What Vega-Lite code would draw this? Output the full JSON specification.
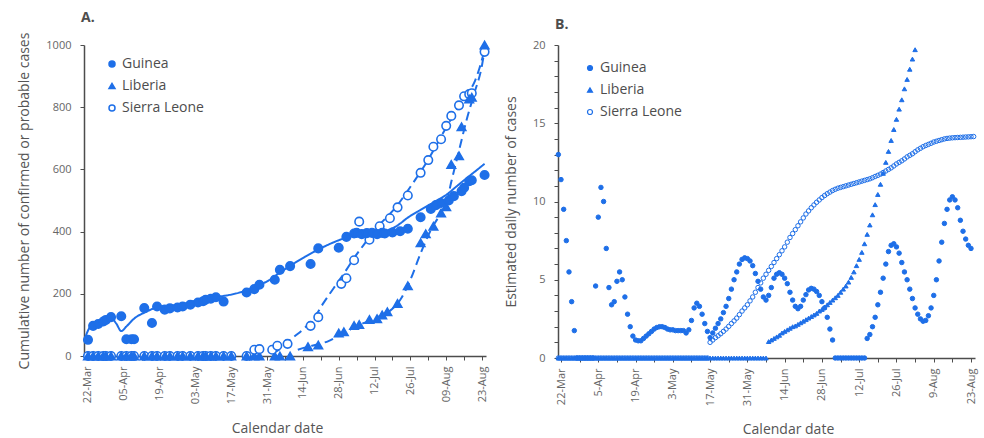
{
"$schema":"https://vega.github.io/schema/vega-lite/v6.json",
"background":"white",
"padding":{"left":17,"top":11,"right":4,"bottom":0},
"spacing":11,
"config":{
 "font":"Open Sans",
 "view":{"stroke":null},
 "axis":{"grid":false,"domainColor":"#4d4d4d","domainWidth":1.5,"tickColor":"#4d4d4d","tickWidth":1,"tickSize":4,"labelColor":"#666666","labelFontSize":11,"titleColor":"#555555","titleFontSize":14,"titleFontWeight":"normal","labelOverlap":false,"labelBound":false},
 "legend":{"labelFontSize":14,"labelColor":"#4d4d4d","rowPadding":8,"padding":0,"labelOffset":3},
 "title":{"fontSize":14,"color":"#4d4d4d","fontWeight":"bold"}
},
"datasets":{
"fitA":[
{"country":"Guinea","date":"2014-03-21","value":62},{"country":"Guinea","date":"2014-03-23","value":95},{"country":"Guinea","date":"2014-03-27","value":111},{"country":"Guinea","date":"2014-03-31","value":121},{"country":"Guinea","date":"2014-04-02","value":105},{"country":"Guinea","date":"2014-04-04","value":80},{"country":"Guinea","date":"2014-04-06","value":95},{"country":"Guinea","date":"2014-04-09","value":120},{"country":"Guinea","date":"2014-04-14","value":143},{"country":"Guinea","date":"2014-04-18","value":157},{"country":"Guinea","date":"2014-04-24","value":163},{"country":"Guinea","date":"2014-04-28","value":168},{"country":"Guinea","date":"2014-05-06","value":184},{"country":"Guinea","date":"2014-05-12","value":191},{"country":"Guinea","date":"2014-05-16","value":196},{"country":"Guinea","date":"2014-05-21","value":206},{"country":"Guinea","date":"2014-05-26","value":222},{"country":"Guinea","date":"2014-05-31","value":240},{"country":"Guinea","date":"2014-06-05","value":268},{"country":"Guinea","date":"2014-06-10","value":295},{"country":"Guinea","date":"2014-06-15","value":320},{"country":"Guinea","date":"2014-06-20","value":342},{"country":"Guinea","date":"2014-06-25","value":362},{"country":"Guinea","date":"2014-06-30","value":378},{"country":"Guinea","date":"2014-07-05","value":388},{"country":"Guinea","date":"2014-07-10","value":394},{"country":"Guinea","date":"2014-07-14","value":399},{"country":"Guinea","date":"2014-07-18","value":407},{"country":"Guinea","date":"2014-07-21","value":420},{"country":"Guinea","date":"2014-07-25","value":445},{"country":"Guinea","date":"2014-07-30","value":470},{"country":"Guinea","date":"2014-08-04","value":494},{"country":"Guinea","date":"2014-08-09","value":518},{"country":"Guinea","date":"2014-08-13","value":545},{"country":"Guinea","date":"2014-08-17","value":572},{"country":"Guinea","date":"2014-08-21","value":598},{"country":"Guinea","date":"2014-08-24","value":618},
{"country":"Liberia","date":"2014-06-12","value":20},{"country":"Liberia","date":"2014-06-16","value":30},{"country":"Liberia","date":"2014-06-20","value":38},{"country":"Liberia","date":"2014-06-24","value":48},{"country":"Liberia","date":"2014-06-28","value":65},{"country":"Liberia","date":"2014-07-02","value":83},{"country":"Liberia","date":"2014-07-06","value":100},{"country":"Liberia","date":"2014-07-10","value":113},{"country":"Liberia","date":"2014-07-14","value":128},{"country":"Liberia","date":"2014-07-18","value":145},{"country":"Liberia","date":"2014-07-22","value":180},{"country":"Liberia","date":"2014-07-26","value":245},{"country":"Liberia","date":"2014-07-30","value":330},{"country":"Liberia","date":"2014-08-03","value":405},{"country":"Liberia","date":"2014-08-07","value":460},{"country":"Liberia","date":"2014-08-09","value":490},{"country":"Liberia","date":"2014-08-11","value":560},{"country":"Liberia","date":"2014-08-14","value":660},{"country":"Liberia","date":"2014-08-17","value":760},{"country":"Liberia","date":"2014-08-20","value":845},{"country":"Liberia","date":"2014-08-23","value":935},{"country":"Liberia","date":"2014-08-24","value":985},
{"country":"Sierra Leone","date":"2014-06-02","value":8},{"country":"Sierra Leone","date":"2014-06-06","value":28},{"country":"Sierra Leone","date":"2014-06-10","value":58},{"country":"Sierra Leone","date":"2014-06-14","value":85},{"country":"Sierra Leone","date":"2014-06-18","value":118},{"country":"Sierra Leone","date":"2014-06-22","value":170},{"country":"Sierra Leone","date":"2014-06-26","value":218},{"country":"Sierra Leone","date":"2014-06-30","value":265},{"country":"Sierra Leone","date":"2014-07-04","value":315},{"country":"Sierra Leone","date":"2014-07-08","value":360},{"country":"Sierra Leone","date":"2014-07-12","value":405},{"country":"Sierra Leone","date":"2014-07-16","value":440},{"country":"Sierra Leone","date":"2014-07-20","value":475},{"country":"Sierra Leone","date":"2014-07-24","value":520},{"country":"Sierra Leone","date":"2014-07-28","value":568},{"country":"Sierra Leone","date":"2014-08-01","value":618},{"country":"Sierra Leone","date":"2014-08-05","value":675},{"country":"Sierra Leone","date":"2014-08-09","value":735},{"country":"Sierra Leone","date":"2014-08-13","value":790},{"country":"Sierra Leone","date":"2014-08-17","value":840},{"country":"Sierra Leone","date":"2014-08-20","value":880},{"country":"Sierra Leone","date":"2014-08-22","value":925},{"country":"Sierra Leone","date":"2014-08-24","value":985}
],
"pointsA":[
{"country":"Sierra Leone","date":"2014-03-22","value":0},{"country":"Sierra Leone","date":"2014-03-24","value":0},{"country":"Sierra Leone","date":"2014-03-26","value":0},{"country":"Sierra Leone","date":"2014-03-28","value":0},{"country":"Sierra Leone","date":"2014-03-29","value":0},{"country":"Sierra Leone","date":"2014-03-31","value":0},{"country":"Sierra Leone","date":"2014-04-04","value":0},{"country":"Sierra Leone","date":"2014-04-06","value":0},{"country":"Sierra Leone","date":"2014-04-08","value":0},{"country":"Sierra Leone","date":"2014-04-09","value":0},{"country":"Sierra Leone","date":"2014-04-13","value":0},{"country":"Sierra Leone","date":"2014-04-16","value":0},{"country":"Sierra Leone","date":"2014-04-18","value":0},{"country":"Sierra Leone","date":"2014-04-21","value":0},{"country":"Sierra Leone","date":"2014-04-23","value":0},{"country":"Sierra Leone","date":"2014-04-26","value":0},{"country":"Sierra Leone","date":"2014-04-28","value":0},{"country":"Sierra Leone","date":"2014-05-01","value":0},{"country":"Sierra Leone","date":"2014-05-04","value":0},{"country":"Sierra Leone","date":"2014-05-06","value":0},{"country":"Sierra Leone","date":"2014-05-07","value":0},{"country":"Sierra Leone","date":"2014-05-09","value":0},{"country":"Sierra Leone","date":"2014-05-11","value":0},{"country":"Sierra Leone","date":"2014-05-14","value":0},{"country":"Sierra Leone","date":"2014-05-17","value":0},{"country":"Sierra Leone","date":"2014-05-23","value":0},
{"country":"Liberia","date":"2014-03-22","value":0},{"country":"Liberia","date":"2014-03-24","value":0},{"country":"Liberia","date":"2014-03-26","value":0},{"country":"Liberia","date":"2014-03-28","value":0},{"country":"Liberia","date":"2014-03-29","value":0},{"country":"Liberia","date":"2014-03-31","value":0},{"country":"Liberia","date":"2014-04-04","value":0},{"country":"Liberia","date":"2014-04-06","value":0},{"country":"Liberia","date":"2014-04-08","value":0},{"country":"Liberia","date":"2014-04-09","value":0},{"country":"Liberia","date":"2014-04-13","value":0},{"country":"Liberia","date":"2014-04-16","value":0},{"country":"Liberia","date":"2014-04-18","value":0},{"country":"Liberia","date":"2014-04-21","value":0},{"country":"Liberia","date":"2014-04-23","value":0},{"country":"Liberia","date":"2014-04-26","value":0},{"country":"Liberia","date":"2014-04-28","value":0},{"country":"Liberia","date":"2014-05-01","value":0},{"country":"Liberia","date":"2014-05-04","value":0},{"country":"Liberia","date":"2014-05-06","value":0},{"country":"Liberia","date":"2014-05-07","value":0},{"country":"Liberia","date":"2014-05-09","value":0},{"country":"Liberia","date":"2014-05-11","value":0},{"country":"Liberia","date":"2014-05-14","value":0},{"country":"Liberia","date":"2014-05-17","value":0},{"country":"Liberia","date":"2014-05-23","value":0},{"country":"Liberia","date":"2014-05-26","value":0},{"country":"Liberia","date":"2014-05-28","value":0},{"country":"Liberia","date":"2014-06-03","value":0},{"country":"Liberia","date":"2014-06-05","value":0},{"country":"Liberia","date":"2014-06-09","value":0},
{"country":"Sierra Leone","date":"2014-05-26","value":20},{"country":"Sierra Leone","date":"2014-05-28","value":22},{"country":"Sierra Leone","date":"2014-06-02","value":20},{"country":"Sierra Leone","date":"2014-06-04","value":33},{"country":"Sierra Leone","date":"2014-06-08","value":39},{"country":"Sierra Leone","date":"2014-06-17","value":97},{"country":"Sierra Leone","date":"2014-06-20","value":125},{"country":"Sierra Leone","date":"2014-06-29","value":232},{"country":"Sierra Leone","date":"2014-07-01","value":250},{"country":"Sierra Leone","date":"2014-07-04","value":308},{"country":"Sierra Leone","date":"2014-07-06","value":432},{"country":"Sierra Leone","date":"2014-07-10","value":374},{"country":"Sierra Leone","date":"2014-07-14","value":417},{"country":"Sierra Leone","date":"2014-07-18","value":443},{"country":"Sierra Leone","date":"2014-07-21","value":478},{"country":"Sierra Leone","date":"2014-07-25","value":516},{"country":"Sierra Leone","date":"2014-07-30","value":589},{"country":"Sierra Leone","date":"2014-08-02","value":630},{"country":"Sierra Leone","date":"2014-08-04","value":673},{"country":"Sierra Leone","date":"2014-08-07","value":697},{"country":"Sierra Leone","date":"2014-08-09","value":740},{"country":"Sierra Leone","date":"2014-08-11","value":772},{"country":"Sierra Leone","date":"2014-08-14","value":806},{"country":"Sierra Leone","date":"2014-08-16","value":835},{"country":"Sierra Leone","date":"2014-08-18","value":842},{"country":"Sierra Leone","date":"2014-08-19","value":845},{"country":"Sierra Leone","date":"2014-08-24","value":978},
{"country":"Liberia","date":"2014-06-16","value":30},{"country":"Liberia","date":"2014-06-20","value":35},{"country":"Liberia","date":"2014-06-28","value":74},{"country":"Liberia","date":"2014-06-30","value":78},{"country":"Liberia","date":"2014-07-04","value":98},{"country":"Liberia","date":"2014-07-06","value":101},{"country":"Liberia","date":"2014-07-10","value":117},{"country":"Liberia","date":"2014-07-13","value":120},{"country":"Liberia","date":"2014-07-15","value":132},{"country":"Liberia","date":"2014-07-17","value":142},{"country":"Liberia","date":"2014-07-21","value":169},{"country":"Liberia","date":"2014-07-25","value":226},{"country":"Liberia","date":"2014-07-30","value":364},{"country":"Liberia","date":"2014-08-01","value":393},{"country":"Liberia","date":"2014-08-04","value":417},{"country":"Liberia","date":"2014-08-07","value":460},{"country":"Liberia","date":"2014-08-09","value":480},{"country":"Liberia","date":"2014-08-11","value":616},{"country":"Liberia","date":"2014-08-14","value":644},{"country":"Liberia","date":"2014-08-15","value":737},{"country":"Liberia","date":"2014-08-18","value":826},{"country":"Liberia","date":"2014-08-19","value":832},{"country":"Liberia","date":"2014-08-24","value":1000},
{"country":"Guinea","date":"2014-03-22","value":52},{"country":"Guinea","date":"2014-03-24","value":97},{"country":"Guinea","date":"2014-03-26","value":103},{"country":"Guinea","date":"2014-03-28","value":111},{"country":"Guinea","date":"2014-03-29","value":116},{"country":"Guinea","date":"2014-03-31","value":125},{"country":"Guinea","date":"2014-04-04","value":128},{"country":"Guinea","date":"2014-04-06","value":54},{"country":"Guinea","date":"2014-04-08","value":54},{"country":"Guinea","date":"2014-04-09","value":54},{"country":"Guinea","date":"2014-04-13","value":154},{"country":"Guinea","date":"2014-04-16","value":106},{"country":"Guinea","date":"2014-04-18","value":159},{"country":"Guinea","date":"2014-04-21","value":149},{"country":"Guinea","date":"2014-04-23","value":153},{"country":"Guinea","date":"2014-04-26","value":156},{"country":"Guinea","date":"2014-04-28","value":159},{"country":"Guinea","date":"2014-05-01","value":165},{"country":"Guinea","date":"2014-05-04","value":172},{"country":"Guinea","date":"2014-05-06","value":176},{"country":"Guinea","date":"2014-05-07","value":181},{"country":"Guinea","date":"2014-05-09","value":184},{"country":"Guinea","date":"2014-05-11","value":189},{"country":"Guinea","date":"2014-05-14","value":175},{"country":"Guinea","date":"2014-05-23","value":204},{"country":"Guinea","date":"2014-05-26","value":215},{"country":"Guinea","date":"2014-05-28","value":229},{"country":"Guinea","date":"2014-06-03","value":245},{"country":"Guinea","date":"2014-06-05","value":277},{"country":"Guinea","date":"2014-06-09","value":289},{"country":"Guinea","date":"2014-06-17","value":296},{"country":"Guinea","date":"2014-06-20","value":346},{"country":"Guinea","date":"2014-06-28","value":348},{"country":"Guinea","date":"2014-07-01","value":383},{"country":"Guinea","date":"2014-07-04","value":394},{"country":"Guinea","date":"2014-07-05","value":396},{"country":"Guinea","date":"2014-07-07","value":392},{"country":"Guinea","date":"2014-07-09","value":395},{"country":"Guinea","date":"2014-07-11","value":396},{"country":"Guinea","date":"2014-07-13","value":392},{"country":"Guinea","date":"2014-07-15","value":396},{"country":"Guinea","date":"2014-07-16","value":394},{"country":"Guinea","date":"2014-07-19","value":397},{"country":"Guinea","date":"2014-07-22","value":401},{"country":"Guinea","date":"2014-07-25","value":409},{"country":"Guinea","date":"2014-07-30","value":446},{"country":"Guinea","date":"2014-08-03","value":473},{"country":"Guinea","date":"2014-08-05","value":485},{"country":"Guinea","date":"2014-08-07","value":492},{"country":"Guinea","date":"2014-08-10","value":500},{"country":"Guinea","date":"2014-08-12","value":514},{"country":"Guinea","date":"2014-08-15","value":530},{"country":"Guinea","date":"2014-08-16","value":541},{"country":"Guinea","date":"2014-08-18","value":562},{"country":"Guinea","date":"2014-08-19","value":565},{"country":"Guinea","date":"2014-08-24","value":582}
],
"pointsB":[
{"country":"Sierra Leone","date":"2014-03-21","value":0},{"country":"Sierra Leone","date":"2014-03-22","value":0},{"country":"Sierra Leone","date":"2014-03-23","value":0},{"country":"Sierra Leone","date":"2014-03-24","value":0},{"country":"Sierra Leone","date":"2014-03-25","value":0},{"country":"Sierra Leone","date":"2014-03-26","value":0},{"country":"Sierra Leone","date":"2014-03-27","value":0},{"country":"Sierra Leone","date":"2014-03-28","value":0},{"country":"Sierra Leone","date":"2014-03-29","value":0},{"country":"Sierra Leone","date":"2014-03-30","value":0},{"country":"Sierra Leone","date":"2014-03-31","value":0},
{"country":"Sierra Leone","date":"2014-04-01","value":0},{"country":"Sierra Leone","date":"2014-04-02","value":0},{"country":"Sierra Leone","date":"2014-04-03","value":0},{"country":"Sierra Leone","date":"2014-04-04","value":0},{"country":"Sierra Leone","date":"2014-04-05","value":0},{"country":"Sierra Leone","date":"2014-04-06","value":0},{"country":"Sierra Leone","date":"2014-04-07","value":0},{"country":"Sierra Leone","date":"2014-04-08","value":0},{"country":"Sierra Leone","date":"2014-04-09","value":0},{"country":"Sierra Leone","date":"2014-04-10","value":0},{"country":"Sierra Leone","date":"2014-04-11","value":0},{"country":"Sierra Leone","date":"2014-04-12","value":0},{"country":"Sierra Leone","date":"2014-04-13","value":0},{"country":"Sierra Leone","date":"2014-04-14","value":0},{"country":"Sierra Leone","date":"2014-04-15","value":0},{"country":"Sierra Leone","date":"2014-04-16","value":0},{"country":"Sierra Leone","date":"2014-04-17","value":0},{"country":"Sierra Leone","date":"2014-04-18","value":0},{"country":"Sierra Leone","date":"2014-04-19","value":0},{"country":"Sierra Leone","date":"2014-04-20","value":0},{"country":"Sierra Leone","date":"2014-04-21","value":0},{"country":"Sierra Leone","date":"2014-04-22","value":0},{"country":"Sierra Leone","date":"2014-04-23","value":0},{"country":"Sierra Leone","date":"2014-04-24","value":0},{"country":"Sierra Leone","date":"2014-04-25","value":0},{"country":"Sierra Leone","date":"2014-04-26","value":0},{"country":"Sierra Leone","date":"2014-04-27","value":0},{"country":"Sierra Leone","date":"2014-04-28","value":0},{"country":"Sierra Leone","date":"2014-04-29","value":0},{"country":"Sierra Leone","date":"2014-04-30","value":0},
{"country":"Sierra Leone","date":"2014-05-01","value":0},{"country":"Sierra Leone","date":"2014-05-02","value":0},{"country":"Sierra Leone","date":"2014-05-03","value":0},{"country":"Sierra Leone","date":"2014-05-04","value":0},{"country":"Sierra Leone","date":"2014-05-05","value":0},{"country":"Sierra Leone","date":"2014-05-06","value":0},{"country":"Sierra Leone","date":"2014-05-07","value":0},{"country":"Sierra Leone","date":"2014-05-08","value":0},{"country":"Sierra Leone","date":"2014-05-09","value":0},{"country":"Sierra Leone","date":"2014-05-10","value":0},{"country":"Sierra Leone","date":"2014-05-11","value":0},{"country":"Sierra Leone","date":"2014-05-12","value":0},{"country":"Sierra Leone","date":"2014-05-13","value":0},{"country":"Sierra Leone","date":"2014-05-14","value":0},{"country":"Sierra Leone","date":"2014-05-15","value":0},{"country":"Sierra Leone","date":"2014-05-16","value":0},
{"country":"Sierra Leone","date":"2014-05-17","value":1.0},{"country":"Sierra Leone","date":"2014-05-18","value":1.15},{"country":"Sierra Leone","date":"2014-05-19","value":1.3},{"country":"Sierra Leone","date":"2014-05-20","value":1.42},{"country":"Sierra Leone","date":"2014-05-21","value":1.55},{"country":"Sierra Leone","date":"2014-05-22","value":1.7},{"country":"Sierra Leone","date":"2014-05-23","value":1.85},{"country":"Sierra Leone","date":"2014-05-24","value":2.02},{"country":"Sierra Leone","date":"2014-05-25","value":2.2},{"country":"Sierra Leone","date":"2014-05-26","value":2.37},{"country":"Sierra Leone","date":"2014-05-27","value":2.55},{"country":"Sierra Leone","date":"2014-05-28","value":2.77},{"country":"Sierra Leone","date":"2014-05-29","value":3.0},{"country":"Sierra Leone","date":"2014-05-30","value":3.2},{"country":"Sierra Leone","date":"2014-05-31","value":3.4},
{"country":"Sierra Leone","date":"2014-06-01","value":3.65},{"country":"Sierra Leone","date":"2014-06-02","value":3.9},{"country":"Sierra Leone","date":"2014-06-03","value":4.2},{"country":"Sierra Leone","date":"2014-06-04","value":4.5},{"country":"Sierra Leone","date":"2014-06-05","value":4.8},{"country":"Sierra Leone","date":"2014-06-06","value":5.1},{"country":"Sierra Leone","date":"2014-06-07","value":5.35},{"country":"Sierra Leone","date":"2014-06-08","value":5.6},{"country":"Sierra Leone","date":"2014-06-09","value":5.85},{"country":"Sierra Leone","date":"2014-06-10","value":6.1},{"country":"Sierra Leone","date":"2014-06-11","value":6.35},{"country":"Sierra Leone","date":"2014-06-12","value":6.6},{"country":"Sierra Leone","date":"2014-06-13","value":6.85},{"country":"Sierra Leone","date":"2014-06-14","value":7.1},{"country":"Sierra Leone","date":"2014-06-15","value":7.4},{"country":"Sierra Leone","date":"2014-06-16","value":7.7},{"country":"Sierra Leone","date":"2014-06-17","value":7.95},{"country":"Sierra Leone","date":"2014-06-18","value":8.2},{"country":"Sierra Leone","date":"2014-06-19","value":8.45},{"country":"Sierra Leone","date":"2014-06-20","value":8.7},{"country":"Sierra Leone","date":"2014-06-21","value":8.95},{"country":"Sierra Leone","date":"2014-06-22","value":9.2},{"country":"Sierra Leone","date":"2014-06-23","value":9.4},{"country":"Sierra Leone","date":"2014-06-24","value":9.6},{"country":"Sierra Leone","date":"2014-06-25","value":9.78},{"country":"Sierra Leone","date":"2014-06-26","value":9.95},{"country":"Sierra Leone","date":"2014-06-27","value":10.1},{"country":"Sierra Leone","date":"2014-06-28","value":10.25},{"country":"Sierra Leone","date":"2014-06-29","value":10.38},{"country":"Sierra Leone","date":"2014-06-30","value":10.5},
{"country":"Sierra Leone","date":"2014-07-01","value":10.6},{"country":"Sierra Leone","date":"2014-07-02","value":10.7},{"country":"Sierra Leone","date":"2014-07-03","value":10.78},{"country":"Sierra Leone","date":"2014-07-04","value":10.85},{"country":"Sierra Leone","date":"2014-07-05","value":10.9},{"country":"Sierra Leone","date":"2014-07-06","value":10.95},{"country":"Sierra Leone","date":"2014-07-07","value":11.0},{"country":"Sierra Leone","date":"2014-07-08","value":11.05},{"country":"Sierra Leone","date":"2014-07-09","value":11.1},{"country":"Sierra Leone","date":"2014-07-10","value":11.15},{"country":"Sierra Leone","date":"2014-07-11","value":11.2},{"country":"Sierra Leone","date":"2014-07-12","value":11.25},{"country":"Sierra Leone","date":"2014-07-13","value":11.3},{"country":"Sierra Leone","date":"2014-07-14","value":11.35},{"country":"Sierra Leone","date":"2014-07-15","value":11.4},{"country":"Sierra Leone","date":"2014-07-16","value":11.45},{"country":"Sierra Leone","date":"2014-07-17","value":11.52},{"country":"Sierra Leone","date":"2014-07-18","value":11.6},{"country":"Sierra Leone","date":"2014-07-19","value":11.67},{"country":"Sierra Leone","date":"2014-07-20","value":11.75},{"country":"Sierra Leone","date":"2014-07-21","value":11.85},{"country":"Sierra Leone","date":"2014-07-22","value":11.95},{"country":"Sierra Leone","date":"2014-07-23","value":12.05},{"country":"Sierra Leone","date":"2014-07-24","value":12.15},{"country":"Sierra Leone","date":"2014-07-25","value":12.27},{"country":"Sierra Leone","date":"2014-07-26","value":12.4},{"country":"Sierra Leone","date":"2014-07-27","value":12.5},{"country":"Sierra Leone","date":"2014-07-28","value":12.6},{"country":"Sierra Leone","date":"2014-07-29","value":12.72},{"country":"Sierra Leone","date":"2014-07-30","value":12.85},{"country":"Sierra Leone","date":"2014-07-31","value":12.95},
{"country":"Sierra Leone","date":"2014-08-01","value":13.05},{"country":"Sierra Leone","date":"2014-08-02","value":13.18},{"country":"Sierra Leone","date":"2014-08-03","value":13.3},{"country":"Sierra Leone","date":"2014-08-04","value":13.4},{"country":"Sierra Leone","date":"2014-08-05","value":13.5},{"country":"Sierra Leone","date":"2014-08-06","value":13.58},{"country":"Sierra Leone","date":"2014-08-07","value":13.65},{"country":"Sierra Leone","date":"2014-08-08","value":13.72},{"country":"Sierra Leone","date":"2014-08-09","value":13.8},{"country":"Sierra Leone","date":"2014-08-10","value":13.85},{"country":"Sierra Leone","date":"2014-08-11","value":13.9},{"country":"Sierra Leone","date":"2014-08-12","value":13.95},{"country":"Sierra Leone","date":"2014-08-13","value":14.0},{"country":"Sierra Leone","date":"2014-08-14","value":14.03},{"country":"Sierra Leone","date":"2014-08-15","value":14.05},{"country":"Sierra Leone","date":"2014-08-16","value":14.07},{"country":"Sierra Leone","date":"2014-08-17","value":14.08},{"country":"Sierra Leone","date":"2014-08-18","value":14.09},{"country":"Sierra Leone","date":"2014-08-19","value":14.1},{"country":"Sierra Leone","date":"2014-08-20","value":14.11},{"country":"Sierra Leone","date":"2014-08-21","value":14.12},{"country":"Sierra Leone","date":"2014-08-22","value":14.13},{"country":"Sierra Leone","date":"2014-08-23","value":14.14},{"country":"Sierra Leone","date":"2014-08-24","value":14.15},
{"country":"Liberia","date":"2014-03-21","value":0},{"country":"Liberia","date":"2014-03-22","value":0},{"country":"Liberia","date":"2014-03-23","value":0},{"country":"Liberia","date":"2014-03-24","value":0},{"country":"Liberia","date":"2014-03-25","value":0},{"country":"Liberia","date":"2014-03-26","value":0},{"country":"Liberia","date":"2014-03-27","value":0},{"country":"Liberia","date":"2014-03-28","value":0},{"country":"Liberia","date":"2014-03-29","value":0},{"country":"Liberia","date":"2014-03-30","value":0},{"country":"Liberia","date":"2014-03-31","value":0},
{"country":"Liberia","date":"2014-04-01","value":0},{"country":"Liberia","date":"2014-04-02","value":0},{"country":"Liberia","date":"2014-04-03","value":0},{"country":"Liberia","date":"2014-04-04","value":0},{"country":"Liberia","date":"2014-04-05","value":0},{"country":"Liberia","date":"2014-04-06","value":0},{"country":"Liberia","date":"2014-04-07","value":0},{"country":"Liberia","date":"2014-04-08","value":0},{"country":"Liberia","date":"2014-04-09","value":0},{"country":"Liberia","date":"2014-04-10","value":0},{"country":"Liberia","date":"2014-04-11","value":0},{"country":"Liberia","date":"2014-04-12","value":0},{"country":"Liberia","date":"2014-04-13","value":0},{"country":"Liberia","date":"2014-04-14","value":0},{"country":"Liberia","date":"2014-04-15","value":0},{"country":"Liberia","date":"2014-04-16","value":0},{"country":"Liberia","date":"2014-04-17","value":0},{"country":"Liberia","date":"2014-04-18","value":0},{"country":"Liberia","date":"2014-04-19","value":0},{"country":"Liberia","date":"2014-04-20","value":0},{"country":"Liberia","date":"2014-04-21","value":0},{"country":"Liberia","date":"2014-04-22","value":0},{"country":"Liberia","date":"2014-04-23","value":0},{"country":"Liberia","date":"2014-04-24","value":0},{"country":"Liberia","date":"2014-04-25","value":0},{"country":"Liberia","date":"2014-04-26","value":0},{"country":"Liberia","date":"2014-04-27","value":0},{"country":"Liberia","date":"2014-04-28","value":0},{"country":"Liberia","date":"2014-04-29","value":0},{"country":"Liberia","date":"2014-04-30","value":0},
{"country":"Liberia","date":"2014-05-01","value":0},{"country":"Liberia","date":"2014-05-02","value":0},{"country":"Liberia","date":"2014-05-03","value":0},{"country":"Liberia","date":"2014-05-04","value":0},{"country":"Liberia","date":"2014-05-05","value":0},{"country":"Liberia","date":"2014-05-06","value":0},{"country":"Liberia","date":"2014-05-07","value":0},{"country":"Liberia","date":"2014-05-08","value":0},{"country":"Liberia","date":"2014-05-09","value":0},{"country":"Liberia","date":"2014-05-10","value":0},{"country":"Liberia","date":"2014-05-11","value":0},{"country":"Liberia","date":"2014-05-12","value":0},{"country":"Liberia","date":"2014-05-13","value":0},{"country":"Liberia","date":"2014-05-14","value":0},{"country":"Liberia","date":"2014-05-15","value":0},{"country":"Liberia","date":"2014-05-16","value":0},{"country":"Liberia","date":"2014-05-17","value":0},{"country":"Liberia","date":"2014-05-18","value":0},{"country":"Liberia","date":"2014-05-19","value":0},{"country":"Liberia","date":"2014-05-20","value":0},{"country":"Liberia","date":"2014-05-21","value":0},{"country":"Liberia","date":"2014-05-22","value":0},{"country":"Liberia","date":"2014-05-23","value":0},{"country":"Liberia","date":"2014-05-24","value":0},{"country":"Liberia","date":"2014-05-25","value":0},{"country":"Liberia","date":"2014-05-26","value":0},{"country":"Liberia","date":"2014-05-27","value":0},{"country":"Liberia","date":"2014-05-28","value":0},{"country":"Liberia","date":"2014-05-29","value":0},{"country":"Liberia","date":"2014-05-30","value":0},{"country":"Liberia","date":"2014-05-31","value":0},
{"country":"Liberia","date":"2014-06-01","value":0},{"country":"Liberia","date":"2014-06-02","value":0},{"country":"Liberia","date":"2014-06-03","value":0},{"country":"Liberia","date":"2014-06-04","value":0},{"country":"Liberia","date":"2014-06-05","value":0},{"country":"Liberia","date":"2014-06-06","value":0},{"country":"Liberia","date":"2014-06-07","value":0},
{"country":"Liberia","date":"2014-06-08","value":1.05},{"country":"Liberia","date":"2014-06-09","value":1.15},{"country":"Liberia","date":"2014-06-10","value":1.25},{"country":"Liberia","date":"2014-06-11","value":1.35},{"country":"Liberia","date":"2014-06-12","value":1.45},{"country":"Liberia","date":"2014-06-13","value":1.6},{"country":"Liberia","date":"2014-06-14","value":1.7},{"country":"Liberia","date":"2014-06-15","value":1.8},{"country":"Liberia","date":"2014-06-16","value":1.9},{"country":"Liberia","date":"2014-06-17","value":2.0},{"country":"Liberia","date":"2014-06-18","value":2.05},{"country":"Liberia","date":"2014-06-19","value":2.15},{"country":"Liberia","date":"2014-06-20","value":2.25},{"country":"Liberia","date":"2014-06-21","value":2.35},{"country":"Liberia","date":"2014-06-22","value":2.45},{"country":"Liberia","date":"2014-06-23","value":2.55},{"country":"Liberia","date":"2014-06-24","value":2.65},{"country":"Liberia","date":"2014-06-25","value":2.75},{"country":"Liberia","date":"2014-06-26","value":2.85},{"country":"Liberia","date":"2014-06-27","value":3.0},{"country":"Liberia","date":"2014-06-28","value":3.1},{"country":"Liberia","date":"2014-06-29","value":3.25},{"country":"Liberia","date":"2014-06-30","value":3.4},
{"country":"Liberia","date":"2014-07-01","value":3.55},{"country":"Liberia","date":"2014-07-02","value":3.7},{"country":"Liberia","date":"2014-07-03","value":3.85},{"country":"Liberia","date":"2014-07-04","value":4.0},{"country":"Liberia","date":"2014-07-05","value":4.2},{"country":"Liberia","date":"2014-07-06","value":4.4},{"country":"Liberia","date":"2014-07-07","value":4.6},{"country":"Liberia","date":"2014-07-08","value":4.85},{"country":"Liberia","date":"2014-07-09","value":5.15},{"country":"Liberia","date":"2014-07-10","value":5.5},{"country":"Liberia","date":"2014-07-11","value":5.9},{"country":"Liberia","date":"2014-07-12","value":6.3},{"country":"Liberia","date":"2014-07-13","value":6.75},{"country":"Liberia","date":"2014-07-14","value":7.3},{"country":"Liberia","date":"2014-07-15","value":7.9},{"country":"Liberia","date":"2014-07-16","value":8.5},{"country":"Liberia","date":"2014-07-17","value":9.15},{"country":"Liberia","date":"2014-07-18","value":9.8},{"country":"Liberia","date":"2014-07-19","value":10.45},{"country":"Liberia","date":"2014-07-20","value":11.1},{"country":"Liberia","date":"2014-07-21","value":11.8},{"country":"Liberia","date":"2014-07-22","value":12.5},{"country":"Liberia","date":"2014-07-23","value":13.2},{"country":"Liberia","date":"2014-07-24","value":13.9},{"country":"Liberia","date":"2014-07-25","value":14.6},{"country":"Liberia","date":"2014-07-26","value":15.25},{"country":"Liberia","date":"2014-07-27","value":15.9},{"country":"Liberia","date":"2014-07-28","value":16.5},{"country":"Liberia","date":"2014-07-29","value":17.2},{"country":"Liberia","date":"2014-07-30","value":17.8},{"country":"Liberia","date":"2014-07-31","value":18.45},{"country":"Liberia","date":"2014-08-01","value":19.1},{"country":"Liberia","date":"2014-08-02","value":19.7},
{"country":"Guinea","date":"2014-03-21","value":13.0},{"country":"Guinea","date":"2014-03-22","value":11.4},{"country":"Guinea","date":"2014-03-23","value":9.5},{"country":"Guinea","date":"2014-03-24","value":7.5},{"country":"Guinea","date":"2014-03-25","value":5.5},{"country":"Guinea","date":"2014-03-26","value":3.6},{"country":"Guinea","date":"2014-03-27","value":1.75},{"country":"Guinea","date":"2014-03-28","value":0},{"country":"Guinea","date":"2014-03-29","value":0},{"country":"Guinea","date":"2014-03-30","value":0},{"country":"Guinea","date":"2014-03-31","value":0},
{"country":"Guinea","date":"2014-04-01","value":0},{"country":"Guinea","date":"2014-04-02","value":0},{"country":"Guinea","date":"2014-04-03","value":0},{"country":"Guinea","date":"2014-04-04","value":4.6},{"country":"Guinea","date":"2014-04-05","value":9.0},{"country":"Guinea","date":"2014-04-06","value":10.9},{"country":"Guinea","date":"2014-04-07","value":10.0},{"country":"Guinea","date":"2014-04-08","value":7.0},{"country":"Guinea","date":"2014-04-09","value":4.5},{"country":"Guinea","date":"2014-04-10","value":3.4},{"country":"Guinea","date":"2014-04-11","value":3.6},{"country":"Guinea","date":"2014-04-12","value":4.9},{"country":"Guinea","date":"2014-04-13","value":5.5},{"country":"Guinea","date":"2014-04-14","value":5.0},{"country":"Guinea","date":"2014-04-15","value":3.9},{"country":"Guinea","date":"2014-04-16","value":2.8},{"country":"Guinea","date":"2014-04-17","value":2.0},{"country":"Guinea","date":"2014-04-18","value":1.4},{"country":"Guinea","date":"2014-04-19","value":1.15},{"country":"Guinea","date":"2014-04-20","value":1.1},{"country":"Guinea","date":"2014-04-21","value":1.1},{"country":"Guinea","date":"2014-04-22","value":1.25},{"country":"Guinea","date":"2014-04-23","value":1.4},{"country":"Guinea","date":"2014-04-24","value":1.55},{"country":"Guinea","date":"2014-04-25","value":1.7},{"country":"Guinea","date":"2014-04-26","value":1.85},{"country":"Guinea","date":"2014-04-27","value":1.95},{"country":"Guinea","date":"2014-04-28","value":2.0},{"country":"Guinea","date":"2014-04-29","value":2.0},{"country":"Guinea","date":"2014-04-30","value":1.95},
{"country":"Guinea","date":"2014-05-01","value":1.85},{"country":"Guinea","date":"2014-05-02","value":1.8},{"country":"Guinea","date":"2014-05-03","value":1.8},{"country":"Guinea","date":"2014-05-04","value":1.75},{"country":"Guinea","date":"2014-05-05","value":1.75},{"country":"Guinea","date":"2014-05-06","value":1.75},{"country":"Guinea","date":"2014-05-07","value":1.75},{"country":"Guinea","date":"2014-05-08","value":1.6},{"country":"Guinea","date":"2014-05-09","value":1.8},{"country":"Guinea","date":"2014-05-10","value":2.4},{"country":"Guinea","date":"2014-05-11","value":3.2},{"country":"Guinea","date":"2014-05-12","value":3.5},{"country":"Guinea","date":"2014-05-13","value":3.3},{"country":"Guinea","date":"2014-05-14","value":2.8},{"country":"Guinea","date":"2014-05-15","value":2.2},{"country":"Guinea","date":"2014-05-16","value":1.7},{"country":"Guinea","date":"2014-05-17","value":1.3},{"country":"Guinea","date":"2014-05-18","value":1.6},{"country":"Guinea","date":"2014-05-19","value":1.9},{"country":"Guinea","date":"2014-05-20","value":2.2},{"country":"Guinea","date":"2014-05-21","value":2.5},{"country":"Guinea","date":"2014-05-22","value":2.9},{"country":"Guinea","date":"2014-05-23","value":3.3},{"country":"Guinea","date":"2014-05-24","value":3.8},{"country":"Guinea","date":"2014-05-25","value":4.4},{"country":"Guinea","date":"2014-05-26","value":5.0},{"country":"Guinea","date":"2014-05-27","value":5.5},{"country":"Guinea","date":"2014-05-28","value":6.0},{"country":"Guinea","date":"2014-05-29","value":6.3},{"country":"Guinea","date":"2014-05-30","value":6.4},{"country":"Guinea","date":"2014-05-31","value":6.35},
{"country":"Guinea","date":"2014-06-01","value":6.2},{"country":"Guinea","date":"2014-06-02","value":5.9},{"country":"Guinea","date":"2014-06-03","value":5.4},{"country":"Guinea","date":"2014-06-04","value":4.9},{"country":"Guinea","date":"2014-06-05","value":4.4},{"country":"Guinea","date":"2014-06-06","value":3.9},{"country":"Guinea","date":"2014-06-07","value":3.7},{"country":"Guinea","date":"2014-06-08","value":4.0},{"country":"Guinea","date":"2014-06-09","value":4.5},{"country":"Guinea","date":"2014-06-10","value":5.1},{"country":"Guinea","date":"2014-06-11","value":5.35},{"country":"Guinea","date":"2014-06-12","value":5.45},{"country":"Guinea","date":"2014-06-13","value":5.35},{"country":"Guinea","date":"2014-06-14","value":5.1},{"country":"Guinea","date":"2014-06-15","value":4.75},{"country":"Guinea","date":"2014-06-16","value":4.2},{"country":"Guinea","date":"2014-06-17","value":3.7},{"country":"Guinea","date":"2014-06-18","value":3.3},{"country":"Guinea","date":"2014-06-19","value":3.15},{"country":"Guinea","date":"2014-06-20","value":3.3},{"country":"Guinea","date":"2014-06-21","value":3.7},{"country":"Guinea","date":"2014-06-22","value":4.05},{"country":"Guinea","date":"2014-06-23","value":4.35},{"country":"Guinea","date":"2014-06-24","value":4.45},{"country":"Guinea","date":"2014-06-25","value":4.4},{"country":"Guinea","date":"2014-06-26","value":4.25},{"country":"Guinea","date":"2014-06-27","value":4.0},{"country":"Guinea","date":"2014-06-28","value":3.6},{"country":"Guinea","date":"2014-06-29","value":3.2},{"country":"Guinea","date":"2014-06-30","value":2.6},
{"country":"Guinea","date":"2014-07-01","value":1.85},{"country":"Guinea","date":"2014-07-02","value":1.15},{"country":"Guinea","date":"2014-07-03","value":0},{"country":"Guinea","date":"2014-07-04","value":0},{"country":"Guinea","date":"2014-07-05","value":0},{"country":"Guinea","date":"2014-07-06","value":0},{"country":"Guinea","date":"2014-07-07","value":0},{"country":"Guinea","date":"2014-07-08","value":0},{"country":"Guinea","date":"2014-07-09","value":0},{"country":"Guinea","date":"2014-07-10","value":0},{"country":"Guinea","date":"2014-07-11","value":0},{"country":"Guinea","date":"2014-07-12","value":0},{"country":"Guinea","date":"2014-07-13","value":0},{"country":"Guinea","date":"2014-07-14","value":0},{"country":"Guinea","date":"2014-07-15","value":1.25},{"country":"Guinea","date":"2014-07-16","value":1.5},{"country":"Guinea","date":"2014-07-17","value":2.0},{"country":"Guinea","date":"2014-07-18","value":2.6},{"country":"Guinea","date":"2014-07-19","value":3.4},{"country":"Guinea","date":"2014-07-20","value":4.2},{"country":"Guinea","date":"2014-07-21","value":5.1},{"country":"Guinea","date":"2014-07-22","value":6.0},{"country":"Guinea","date":"2014-07-23","value":6.8},{"country":"Guinea","date":"2014-07-24","value":7.2},{"country":"Guinea","date":"2014-07-25","value":7.3},{"country":"Guinea","date":"2014-07-26","value":7.1},{"country":"Guinea","date":"2014-07-27","value":6.7},{"country":"Guinea","date":"2014-07-28","value":6.1},{"country":"Guinea","date":"2014-07-29","value":5.5},{"country":"Guinea","date":"2014-07-30","value":5.0},{"country":"Guinea","date":"2014-07-31","value":4.4},
{"country":"Guinea","date":"2014-08-01","value":3.8},{"country":"Guinea","date":"2014-08-02","value":3.2},{"country":"Guinea","date":"2014-08-03","value":2.8},{"country":"Guinea","date":"2014-08-04","value":2.5},{"country":"Guinea","date":"2014-08-05","value":2.35},{"country":"Guinea","date":"2014-08-06","value":2.4},{"country":"Guinea","date":"2014-08-07","value":2.7},{"country":"Guinea","date":"2014-08-08","value":3.2},{"country":"Guinea","date":"2014-08-09","value":4.0},{"country":"Guinea","date":"2014-08-10","value":5.0},{"country":"Guinea","date":"2014-08-11","value":6.2},{"country":"Guinea","date":"2014-08-12","value":7.4},{"country":"Guinea","date":"2014-08-13","value":8.6},{"country":"Guinea","date":"2014-08-14","value":9.5},{"country":"Guinea","date":"2014-08-15","value":10.1},{"country":"Guinea","date":"2014-08-16","value":10.3},{"country":"Guinea","date":"2014-08-17","value":10.1},{"country":"Guinea","date":"2014-08-18","value":9.6},{"country":"Guinea","date":"2014-08-19","value":8.8},{"country":"Guinea","date":"2014-08-20","value":8.1},{"country":"Guinea","date":"2014-08-21","value":7.6},{"country":"Guinea","date":"2014-08-22","value":7.2},{"country":"Guinea","date":"2014-08-23","value":7.0}
]
},
"hconcat":[
{
 "width":402,"height":311,
 "title":{"text":"A.","anchor":"start","frame":"group","offset":7,"dx":-3},
 "layer":[
  {"data":{"name":"fitA"},
   "mark":{"type":"line","color":"#1e6fe8","strokeWidth":2,"interpolate":"monotone"},
   "encoding":{
    "x":{"field":"date","type":"temporal","scale":{"type":"utc","domain":[1395311616000,1408886784000]},
     "axis":{"title":"Calendar date","values":[1395446400000,1396051200000,1396656000000,1397260800000,1397865600000,1398470400000,1399075200000,1399680000000,1400284800000,1400889600000,1401494400000,1402099200000,1402704000000,1403308800000,1403913600000,1404518400000,1405123200000,1405728000000,1406332800000,1406937600000,1407542400000,1408147200000,1408752000000],"labelExpr":"round((datum.value - 1395446400000) / 86400000) % 14 == 0 ? utcFormat(datum.value, '%d-%b') : ''","labelAngle":270,"labelPadding":6,"titlePadding":18,"titleX":193,"labelOverlap":false,"labelBound":false,"labelFlush":false}},
    "y":{"field":"value","type":"quantitative","scale":{"domain":[0,1000]},
     "axis":{"title":"Cumulative number of confirmed or probable cases","values":[0,50,100,150,200,250,300,350,400,450,500,550,600,650,700,750,800,850,900,950,1000],"format":"d","labelExpr":"datum.value % 200 == 0 ? datum.label : ''","labelPadding":9,"titlePadding":14}},
    "strokeDash":{"field":"country","type":"nominal","scale":{"domain":["Guinea","Liberia","Sierra Leone"],"range":[[1,0],[9,5],[9,5]]},"legend":null}
   }},
  {"data":{"name":"pointsA"},
   "mark":{"type":"point","filled":true,"size":72,"strokeWidth":1.6,"opacity":1},
   "encoding":{
    "x":{"field":"date","type":"temporal","axis":{"title":"Calendar date","values":[1395446400000,1396051200000,1396656000000,1397260800000,1397865600000,1398470400000,1399075200000,1399680000000,1400284800000,1400889600000,1401494400000,1402099200000,1402704000000,1403308800000,1403913600000,1404518400000,1405123200000,1405728000000,1406332800000,1406937600000,1407542400000,1408147200000,1408752000000],"labelExpr":"round((datum.value - 1395446400000) / 86400000) % 14 == 0 ? utcFormat(datum.value, '%d-%b') : ''","labelAngle":270,"labelPadding":6,"titlePadding":18,"titleX":193,"labelOverlap":false,"labelBound":false,"labelFlush":false}},
    "y":{"field":"value","type":"quantitative"},
    "shape":{"field":"country","type":"nominal","scale":{"domain":["Guinea","Liberia","Sierra Leone"],"range":["circle","triangle-up","circle"]},"legend":{"title":null,"orient":"none","legendX":21,"legendY":12,"symbolSize":36,"symbolStrokeWidth":1.5}},
    "fill":{"field":"country","type":"nominal","scale":{"domain":["Guinea","Liberia","Sierra Leone"],"range":["#1e6fe8","#1e6fe8","#ffffff"]},"legend":{"title":null,"orient":"none","legendX":21,"legendY":12,"symbolSize":36,"symbolStrokeWidth":1.5}},
    "stroke":{"field":"country","type":"nominal","scale":{"domain":["Guinea","Liberia","Sierra Leone"],"range":["#1e6fe8","#1e6fe8","#1e6fe8"]},"legend":{"title":null,"orient":"none","legendX":21,"legendY":12,"symbolSize":36,"symbolStrokeWidth":1.5}}
   }}
 ],
 "resolve":{"scale":{"shape":"independent","fill":"independent","stroke":"independent"}}
},
{
 "width":417,"height":313,
 "title":{"text":"B.","anchor":"start","frame":"group","offset":7,"dx":-3},
 "data":{"name":"pointsB"},
 "mark":{"type":"point","filled":true,"size":20,"strokeWidth":1,"opacity":1},
 "encoding":{
  "x":{"field":"date","type":"temporal","scale":{"type":"utc","domain":[1395348768000,1408881600000]},
   "axis":{"title":"Calendar date","values":[1395446400000,1396051200000,1396656000000,1397260800000,1397865600000,1398470400000,1399075200000,1399680000000,1400284800000,1400889600000,1401494400000,1402099200000,1402704000000,1403308800000,1403913600000,1404518400000,1405123200000,1405728000000,1406332800000,1406937600000,1407542400000,1408147200000,1408752000000],"labelExpr":"round((datum.value - 1395446400000) / 86400000) % 14 == 0 ? utcFormat(datum.value, '%-d-%b') : ''","labelAngle":270,"labelPadding":6,"titlePadding":17,"titleX":230,"labelOverlap":false,"labelBound":false,"labelFlush":false}},
  "y":{"field":"value","type":"quantitative","scale":{"domain":[0,20]},
   "axis":{"title":"Estimated daily number of cases","values":[0,1,2,3,4,5,6,7,8,9,10,11,12,13,14,15,16,17,18,19,20],"format":"d","labelExpr":"datum.value % 5 == 0 ? datum.label : ''","labelPadding":9,"titlePadding":14}},
  "shape":{"field":"country","type":"nominal","scale":{"domain":["Guinea","Liberia","Sierra Leone"],"range":["circle","triangle-up","circle"]},"legend":{"title":null,"orient":"none","legendX":25,"legendY":16,"symbolSize":25,"symbolStrokeWidth":1.2}},
  "fill":{"field":"country","type":"nominal","scale":{"domain":["Guinea","Liberia","Sierra Leone"],"range":["#1e6fe8","#1e6fe8","transparent"]},"legend":{"title":null,"orient":"none","legendX":25,"legendY":16,"symbolSize":25,"symbolStrokeWidth":1.2}},
  "stroke":{"field":"country","type":"nominal","scale":{"domain":["Guinea","Liberia","Sierra Leone"],"range":["#1e6fe8","#1e6fe8","#1e6fe8"]},"legend":{"title":null,"orient":"none","legendX":25,"legendY":16,"symbolSize":25,"symbolStrokeWidth":1.2}}
 }
}
],
"resolve":{"scale":{"shape":"independent","fill":"independent","stroke":"independent"},"legend":{"shape":"independent","fill":"independent","stroke":"independent"}}
}
